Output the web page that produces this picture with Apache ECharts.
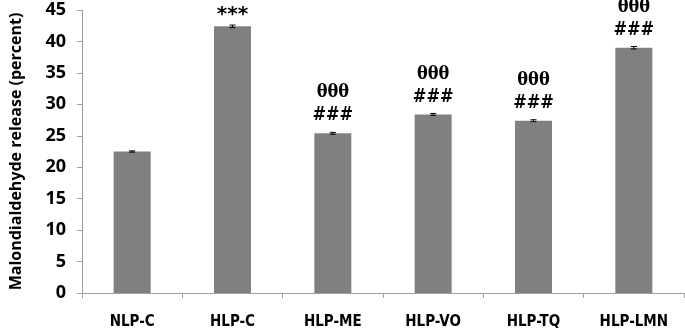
<!DOCTYPE html>
<html>
<head>
<meta charset="utf-8">
<script src="https://cdn.jsdelivr.net/npm/echarts@6/dist/echarts.min.js"></script>
<style>
html, body { margin: 0; padding: 0; background: #fff; }
#chart { width: 685px; height: 336px; }
</style>
</head>
<body>
<div id="chart"></div>
<script>
// data
var categories = ['NLP-C', 'HLP-C', 'HLP-ME', 'HLP-VO', 'HLP-TQ', 'HLP-LMN'];
var values = [22.5, 42.4, 25.4, 28.4, 27.4, 39.0];
var errors = [0.1, 0.2, 0.15, 0.15, 0.15, 0.2];
var marks = ['', '***', '\u03b8\u03b8\u03b8\n###', '\u03b8\u03b8\u03b8\n###', '\u03b8\u03b8\u03b8\n###', '\u03b8\u03b8\u03b8\n###'];
var yTicks = { min: 0, max: 45, interval: 5 };

var chart = echarts.init(document.getElementById('chart'));

var option = {
    backgroundColor: '#fff',
    animation: false,
    grid: { left: 71, right: 1, top: 10, bottom: 43 },
    xAxis: {
        type: 'category',
        data: categories,
        axisLine: { lineStyle: { color: '#a0a0a0', width: 1 } },
        axisTick: { show: true, length: 5, lineStyle: { color: '#a0a0a0' } },
        axisLabel: {
            margin: 22,
            color: '#000',
            fontWeight: 'bold',
            fontSize: 15,
            fontFamily: 'DejaVu Sans Condensed'
        }
    },
    yAxis: {
        type: 'value',
        min: yTicks.min,
        max: yTicks.max,
        interval: yTicks.interval,
        name: 'Malondialdehyde release (percent)',
        nameLocation: 'middle',
        nameGap: 58,
        nameTextStyle: { color: '#000', fontWeight: 'bold', fontSize: 16, fontFamily: 'Open Sans' },
        axisLine: { show: true, lineStyle: { color: '#a0a0a0', width: 1 } },
        axisTick: { show: true, length: 5, lineStyle: { color: '#a0a0a0' } },
        splitLine: { show: false },
        axisLabel: { color: '#000', fontWeight: 'bold', fontSize: 18, fontFamily: 'Open Sans', margin: 16 }
    },
    series: [{
        type: 'bar',
        data: values.map(function (v, i) {
            if (marks[i] === '***') {
                return { value: v, label: { fontFamily: 'DejaVu Sans', fontSize: 20, lineHeight: 20, distance: 2 } };
            }
            return v;
        }),
        barWidth: 37,
        itemStyle: { color: '#808080' },
        label: {
            show: true,
            position: 'top',
            distance: 6,
            formatter: function (p) { return marks[p.dataIndex]; },
            color: '#000',
            fontWeight: 'bold',
            fontSize: 18,
            lineHeight: 23,
            fontFamily: 'DejaVu Serif Condensed'
        }
    }, {
        type: 'custom',
        data: values.map(function (v, i) { return [i, v - errors[i], v + errors[i]]; }),
        renderItem: function (params, api) {
            var lo = api.coord([api.value(0), api.value(1)]);
            var hi = api.coord([api.value(0), api.value(2)]);
            var w = 3;
            var st = { stroke: '#000', lineWidth: 1 };
            return {
                type: 'group',
                children: [
                    { type: 'line', shape: { x1: hi[0], y1: hi[1], x2: lo[0], y2: lo[1] }, style: st },
                    { type: 'line', shape: { x1: hi[0] - w, y1: hi[1], x2: hi[0] + w, y2: hi[1] }, style: st },
                    { type: 'line', shape: { x1: lo[0] - w, y1: lo[1], x2: lo[0] + w, y2: lo[1] }, style: st }
                ]
            };
        },
        z: 10
    }]
};

chart.setOption(option);
</script>
</body>
</html>
